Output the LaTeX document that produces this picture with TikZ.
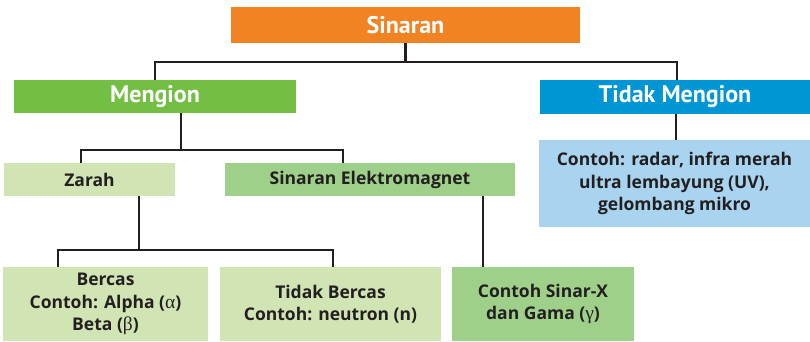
\documentclass[tikz,border=0pt]{standalone}
\usepackage{fontspec}
\setmainfont{PT Sans}
\newfontfamily\bodyfont{Open Sans}
\newfontfamily\greekfont{Liberation Serif}
\usepackage{xcolor}
\definecolor{HeadOrange}{RGB}{242,131,34}
\definecolor{HeadGreen}{RGB}{114,191,68}
\definecolor{HeadBlue}{RGB}{0,150,214}
\definecolor{PaleGreen}{RGB}{209,228,179}
\definecolor{MidGreen}{RGB}{159,208,138}
\definecolor{PaleBlue}{RGB}{168,212,240}
\definecolor{InkGrey}{RGB}{35,31,32}
\usepackage{tikz}

\begin{document}
\begin{tikzpicture}[x=1pt,y=1pt,
    head/.style={inner sep=0pt,text=white,font=\bfseries\fontsize{24}{28}\selectfont},
    box/.style={inner sep=0pt,align=center,text=InkGrey,font=\bodyfont\bfseries\fontsize{17.5}{22.5}\selectfont},
    link/.style={draw=InkGrey,line width=2.6pt}]
        \useasboundingbox (0,0) rectangle (810,342);
        % top level
        \node[head,fill=HeadOrange,minimum width=349pt,minimum height=36pt] (sinaran) at (405.5,317) {Sinaran};
        \node[head,fill=HeadGreen,minimum width=282pt,minimum height=33pt] (mengion) at (155,245.5) {Mengion};
        \node[head,fill=HeadBlue,minimum width=270pt,minimum height=34pt] (tidak) at (675,245) {Tidak Mengion};
        % second level
        \node[box,fill=PaleGreen,minimum width=171pt,minimum height=33pt] (zarah) at (89.5,162.5) {Zarah};
        \node[box,fill=MidGreen,minimum width=290pt,minimum height=33pt] (elektro) at (370,162.5) {Sinaran Elektromagnet};
        \node[box,fill=PaleBlue,minimum width=271pt,minimum height=87pt] (contoh) at (674.5,158.5)
            {Contoh: radar, infra merah\\ultra lembayung (UV),\\gelombang mikro};
        % bottom row
        \node[box,fill=PaleGreen,minimum width=205pt,minimum height=74pt] (bercas) at (105.5,38)
            {Bercas\\Contoh: Alpha ({\greekfont\mdseries\fontsize{19.5}{22.5}\selectfont α})\\Beta ({\greekfont\mdseries\fontsize{19.5}{22.5}\selectfont β})};
        \node[box,fill=PaleGreen,minimum width=221pt,minimum height=74pt] (tbercas) at (330.5,38)
            {Tidak Bercas\\Contoh: neutron (n)};
        \node[box,fill=MidGreen,minimum width=182pt,minimum height=74pt] (sinarx) at (543,38)
            {Contoh Sinar-X\\dan Gama ({\greekfont\mdseries\fontsize{19.5}{22.5}\selectfont γ})};
        % connectors
        \coordinate (b1) at (405.5,280);
        \coordinate (b2) at (181,192);
        \coordinate (b3) at (139,92);
        \draw[link] (sinaran.south) -- (b1);
        \draw[link] (mengion.north) |- (b1) -| ([xshift=2pt]tidak.north);
        \draw[link] (mengion.south -| b2) -- (b2);
        \draw[link] ([xshift=-8.5pt]zarah.north) |- (b2) -| ([xshift=-27pt]elektro.north);
        \draw[link] (zarah.south -| b3) -- (b3);
        \draw[link] ([xshift=-47.5pt]bercas.north) |- (b3) -| ([xshift=2.5pt]tbercas.north);
        \draw[link] ([xshift=113pt]elektro.south) -- ([xshift=-60pt]sinarx.north);
        \draw[link] ([xshift=1pt]tidak.south) -- ([xshift=1.5pt]contoh.north);
    \end{tikzpicture}
\end{document}
